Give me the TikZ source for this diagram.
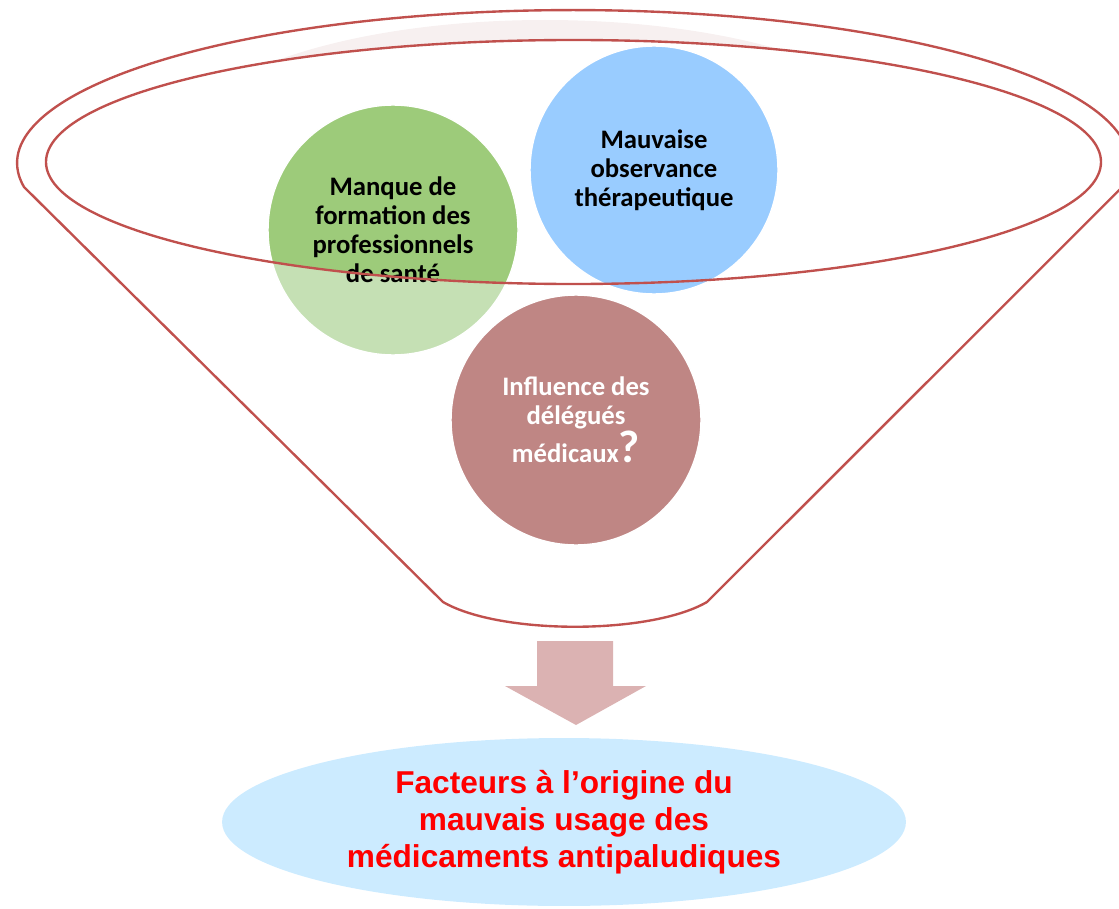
\documentclass[tikz,border=0pt]{standalone}
\usepackage{fontspec}
\usepackage{tikz}
\usetikzlibrary{shapes.geometric}
\newfontfamily\calibri{Carlito}
\newfontfamily\arial{Liberation Sans}
\definecolor{rim}{RGB}{192,80,77}
\definecolor{leaf}{RGB}{157,203,122}
\definecolor{leafpale}{RGB}{197,224,180}
\definecolor{sky}{RGB}{153,204,255}
\definecolor{rose}{RGB}{191,134,132}
\definecolor{arrowpink}{RGB}{219,178,178}
\definecolor{mist}{RGB}{204,235,255}
\definecolor{blush}{RGB}{247,240,240}
\tikzset{
    bubble/.style={
           circle,
           draw=white, thick,
           minimum size=5cm,
           inner sep=0pt,
           align=center,
           font=\calibri\bfseries\fontsize{15.2}{16.5}\selectfont,
           },
    outcome/.style={
           ellipse,
           fill=mist,
           minimum width=13.68cm,
           minimum height=3.36cm,
           inner sep=0pt,
           align=center,
           text=red,
           font=\arial\bfseries\fontsize{18}{21}\selectfont,
           },
    funnel/.style={draw=rim, line width=1.35pt},
}

\begin{document}
\begin{tikzpicture}[x=0.02cm, y=0.02cm]
    \useasboundingbox (0,0) rectangle (1119,-909);

    % faint shade behind the rim, then the mouth of the funnel
    \fill[blush] (545,-150) ellipse [x radius=370, y radius=130];
    \fill[white] (573.5,-162) ellipse [x radius=527.5, y radius=122];

    % green bubble: darker where it sits inside the rim
    \fill[leafpale] (393,-230) circle [radius=125];
    \begin{scope}
        \clip (573.5,-162) ellipse [x radius=527.5, y radius=122];
        \fill[leaf] (393,-230) circle [radius=125];
    \end{scope}

    \node[bubble,       % layout (defined above)
    anchor=center] (training)
    at (393,-230)
    {Manque de\\formation des\\professionnels\\de santé};

    \node[bubble,       % layout (defined above)
    fill=sky,
    minimum size=4.96cm,
    anchor=center] (observance)
    at (654,-170)
    {Mauvaise\\observance\\thérapeutique};

    \node[bubble,       % layout (defined above)
    fill=rose,
    text=white,
    anchor=center] (delegues)
    at (576,-420)
    {Influence des\\délégués\\médicaux{\fontsize{26}{26}\selectfont ?}};

    % block arrow out of the spout
    \coordinate (spout) at (576,-641);
    \coordinate (tip) at (576,-725);
    \fill[arrowpink] (spout) ++(-39,0) -- ++(76,0) -- ++(0,-45) -- ++(33,0)
        -- (tip) -- ++(-71,39) -- ++(32,0) -- cycle;

    \node[outcome,      % layout (defined above)
    anchor=center] (facteurs)
    at (564,-822)
    {Facteurs à l’origine du\\mauvais usage des\\médicaments antipaludiques};

    % funnel outline drawn last, over the bubbles
    \draw[funnel] (443,-602) -- (24,-187)
        arc [start angle=189, end angle=-9, x radius=556, y radius=153]
        -- (707,-602) .. controls (650,-635) and (500,-635) .. (443,-602) -- cycle;
    \draw[funnel] (573.5,-162) ellipse [x radius=527.5, y radius=122];
\end{tikzpicture}
\end{document}
